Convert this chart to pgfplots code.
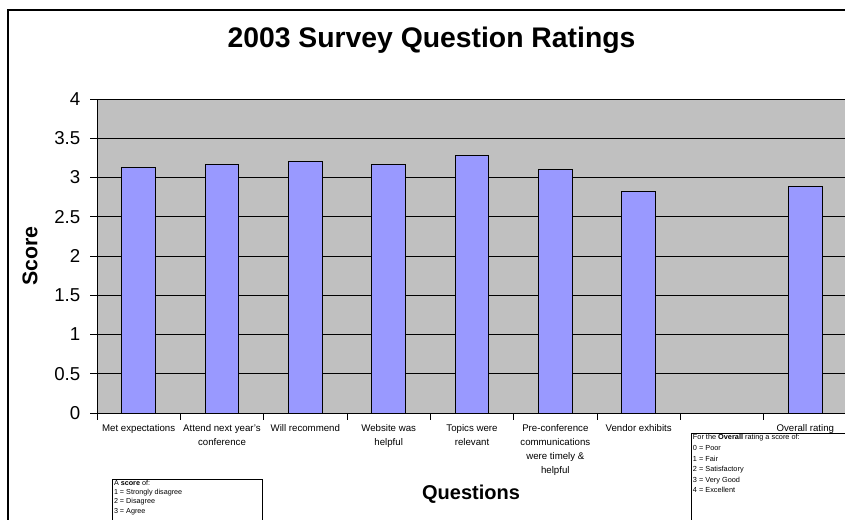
\documentclass[border=0pt]{standalone}
\usepackage{pgfplots}
\pgfplotsset{compat=1.18}
\usepackage{fontspec}
\setmainfont{Liberation Sans}
\definecolor{plotbg}{HTML}{C0C0C0}
\definecolor{barfill}{HTML}{9999FF}
\begin{document}
\begin{tikzpicture}
% 1 px of the reference = 0.75pt
\useasboundingbox (0,0) rectangle (633.75pt,389.25pt);
\clip (0,0) rectangle (633.75pt,389.25pt);
\fill[white] (0,0) rectangle (633.75pt,389.25pt);
\draw[line width=1.5pt] (6pt,381.75pt) rectangle (700pt,-20pt);
\begin{axis}[
  at={(72.75pt,79.5pt)}, anchor=south west,
  scale only axis,
  width=562.5pt, height=235.5pt,
  xmin=-0.5, xmax=8.5,
  ymin=0, ymax=4,
  axis x line*=bottom, axis y line*=left,
  axis line style={-, black, line width=0.75pt},
  axis background/.style={fill=plotbg},
  ymajorgrids,
  major grid style={black, line width=0.6pt},
  tick align=outside,
  major tick length=5pt,
  tick style={black, line width=0.6pt},
  ytick={0,0.5,...,4},
  /pgf/number format/assume math mode=true,
  yticklabel style={font=\fontsize{14}{16}\selectfont, xshift=-4pt},
  xtick={-0.5,0.5,...,8.5},
  x tick label as interval,
  xticklabels={{Met expectations},{Attend next year's\\conference},{Will recommend},{Website was\\helpful},{Topics were\\relevant},{Pre-conference\\communications\\were timely \&\\helpful},{Vendor exhibits},{},{Overall rating}},
  xticklabel style={align=center, font=\fontsize{7.25}{10.5}\selectfont},
  title={2003 Survey Question Ratings},
  title style={at={(rel axis cs:0.446,1.162)}, anchor=center, yshift=0pt, font=\bfseries\fontsize{21.25}{25}\selectfont},
  xlabel={Questions},
  xlabel style={at={(rel axis cs:0.4987,-0.258)}, anchor=center, font=\bfseries\fontsize{15}{18}\selectfont},
  ylabel={Score},
  ylabel style={at={(rel axis cs:-0.0893,0.5)}, anchor=center, rotate=0, font=\bfseries\fontsize{16}{19}\selectfont},
]
\addplot[ybar, bar width=25.3pt, fill=barfill, draw=black, line width=0.75pt]
  coordinates {(0,3.13) (1,3.16) (2,3.21) (3,3.17) (4,3.28) (5,3.10) (6,2.82) (8,2.88)};
\end{axis}
\draw[line width=0.6pt] (84pt,30pt) rectangle (196.5pt,-10pt);
\node[anchor=north west, inner sep=0.8pt, align=left, font=\fontsize{5.4}{6.8}\selectfont] at (84.5pt,29.8pt)
  {A \textbf{score} of:\\1 = Strongly disagree\\2 = Disagree\\3 = Agree};
\draw[line width=0.6pt] (518.25pt,64.5pt) rectangle (660pt,-10pt);
\node[anchor=north west, inner sep=0.8pt, align=left, font=\fontsize{5.5}{7.95}\selectfont] at (518.7pt,64.3pt)
  {For the \textbf{Overall} rating a score of:\\0 = Poor\\1 = Fair\\2 = Satisfactory\\3 = Very Good\\4 = Excellent};
\end{tikzpicture}
\end{document}
